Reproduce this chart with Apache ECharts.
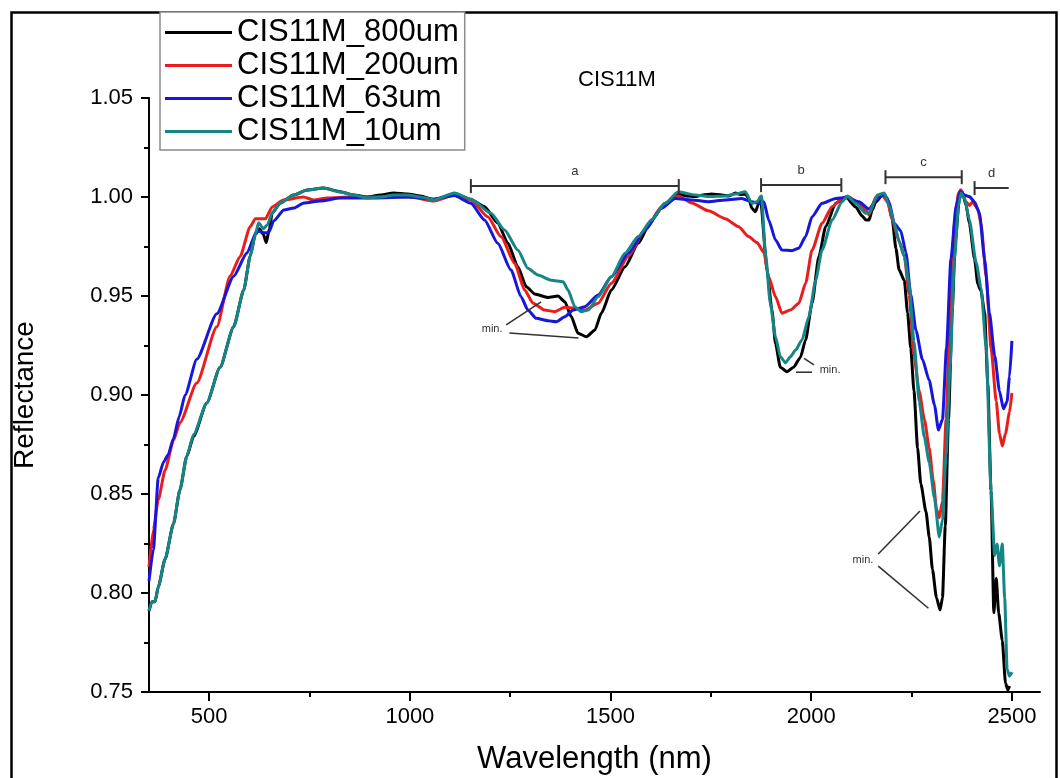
<!DOCTYPE html>
<html>
<head>
<meta charset="utf-8">
<script src="https://cdn.jsdelivr.net/npm/echarts@6/dist/echarts.min.js"></script>
<style>
  html, body { margin: 0; padding: 0; background: #fff; }
  #chart { width: 1060px; height: 778px; }
</style>
</head>
<body>
<div id="chart"></div>
<script>
// Reflectance spectra of sample CIS11M at four grain sizes (wavelength in nm)
const wl800 = [350,357,365,373,390,411,427,444,461,494,527,561,586,602,615,625,635,642,650,657,677,710,744,785,827,860,894,927,960,994,1027,1060,1110,1152,1186,1219,1244,1269,1290,1311,1344,1369,1386,1402,1419,1440,1461,1477,1502,1536,1569,1602,1636,1669,1690,1711,1730,1752,1777,1795,1811,1825,1836,1845,1852,1861,1868,1873,1890,1902,1911,1923,1940,1956,1973,1986,2002,2019,2036,2061,2086,2111,2127,2136,2144,2152,2161,2177,2190,2202,2211,2219,2232,2240,2248,2256,2265,2273,2286,2294,2302,2312,2321,2327,2334,2342,2351,2359,2369,2376,2386,2394,2407,2415,2423,2432,2440,2448,2455,2461,2467,2476,2484,2490,2494];
const r800  = [0.791,0.7956,0.7956,0.803,0.817,0.835,0.852,0.869,0.879,0.896,0.914,0.9345,0.953,0.970,0.981,0.984,0.981,0.977,0.984,0.992,0.997,1.001,1.0035,1.0045,1.0027,1.001,1.000,1.001,1.002,1.0015,1.0005,0.9985,1.0015,0.9988,0.9951,0.9869,0.9768,0.9648,0.9547,0.951,0.9493,0.950,0.9471,0.9396,0.9312,0.9294,0.9328,0.9413,0.953,0.9648,0.9766,0.9884,0.9968,1.0015,1.0005,1.0002,1.001,1.0015,1.001,1.0005,1.002,1.0012,1.0015,0.999,0.9943,0.9926,0.996,1.000,0.963,0.943,0.926,0.914,0.9118,0.914,0.919,0.9278,0.9463,0.9699,0.985,0.9968,1.000,0.995,0.9904,0.9884,0.9884,0.9934,0.9975,1.001,0.9992,0.9884,0.974,0.9632,0.9578,0.9416,0.9236,0.902,0.8732,0.8552,0.841,0.8283,0.812,0.7976,0.7914,0.7976,0.8338,0.8876,0.9416,0.9776,0.9992,1.0028,0.9957,0.9866,0.9687,0.956,0.9525,0.9416,0.9055,0.8517,0.790,0.8075,0.790,0.776,0.7545,0.751,0.753];

const wl200 = [350,361,373,390,411,427,469,519,552,577,602,615,640,657,685,735,760,794,850,950,1000,1060,1111,1152,1194,1227,1261,1286,1307,1336,1361,1386,1411,1436,1469,1502,1544,1586,1627,1669,1702,1744,1786,1819,1844,1865,1882,1894,1911,1927,1948,1969,1986,2002,2027,2052,2077,2094,2119,2136,2144,2161,2177,2190,2202,2219,2232,2244,2256,2269,2282,2294,2304,2312,2319,2327,2336,2346,2357,2367,2373,2386,2394,2402,2415,2423,2436,2448,2461,2469,2476,2484,2494,2500];
const r200  = [0.813,0.832,0.847,0.862,0.877,0.886,0.906,0.9345,0.960,0.970,0.985,0.989,0.989,0.995,0.9985,1.000,0.9985,0.9995,1.000,1.000,1.000,0.998,1.001,0.9985,0.990,0.980,0.9665,0.953,0.9463,0.9429,0.9421,0.9443,0.9438,0.9429,0.9463,0.9564,0.9699,0.9833,0.9951,1.0005,0.997,0.993,0.989,0.985,0.980,0.977,0.972,0.9597,0.9496,0.9413,0.9429,0.9463,0.9564,0.9732,0.9867,0.9951,0.9993,1.000,0.9968,0.9934,0.991,1.000,1.001,0.9975,0.9884,0.9776,0.970,0.9507,0.920,0.902,0.8876,0.8732,0.857,0.8426,0.838,0.8463,0.8876,0.9416,0.9866,1.002,1.0037,0.9975,0.9957,0.9975,0.994,0.9866,0.9596,0.9237,0.8967,0.8805,0.8742,0.8805,0.8913,0.901];

const wl63 = [350,361,373,386,398,411,425,440,469,519,561,594,619,636,648,661,686,711,736,777,827,910,994,1060,1111,1152,1186,1219,1252,1277,1294,1315,1344,1365,1386,1407,1436,1469,1502,1544,1586,1627,1661,1702,1744,1786,1827,1852,1869,1882,1894,1911,1927,1952,1969,1986,2002,2027,2061,2086,2119,2144,2165,2182,2194,2207,2223,2236,2248,2261,2277,2294,2307,2317,2327,2337,2348,2361,2371,2382,2394,2407,2419,2432,2444,2457,2469,2479,2488,2494,2500];
const r63  = [0.806,0.822,0.858,0.866,0.870,0.878,0.889,0.900,0.918,0.941,0.960,0.9717,0.983,0.982,0.982,0.988,0.9934,0.9944,0.997,0.998,0.9995,0.9995,1.000,0.999,1.0007,0.9968,0.9884,0.9766,0.9631,0.9496,0.9429,0.9387,0.9375,0.937,0.9395,0.9429,0.9446,0.9505,0.9597,0.9716,0.9833,0.9943,0.9993,0.9985,0.9976,0.9985,0.9993,0.9976,0.9968,0.9976,0.9884,0.9783,0.9732,0.9729,0.9741,0.980,0.990,0.9968,0.9993,0.9998,0.9976,0.994,0.999,1.0015,0.9975,0.9866,0.983,0.972,0.9507,0.9326,0.918,0.9074,0.895,0.8823,0.8876,0.9237,0.9687,0.9957,1.0028,1.001,1.0002,0.9975,0.992,0.9687,0.9416,0.920,0.902,0.893,0.8967,0.9092,0.9273];

const wl10 = [350,357,365,373,390,411,427,444,461,494,527,561,586,602,615,623,635,645,657,677,710,744,785,827,860,894,927,960,994,1027,1060,1111,1152,1202,1236,1269,1294,1319,1352,1382,1394,1411,1427,1444,1469,1502,1536,1569,1602,1636,1669,1711,1744,1786,1811,1836,1852,1865,1876,1886,1898,1911,1923,1936,1948,1961,1977,1994,2011,2027,2052,2077,2090,2111,2136,2144,2165,2182,2194,2207,2219,2232,2244,2256,2269,2282,2294,2307,2319,2327,2336,2346,2357,2367,2373,2382,2394,2411,2423,2436,2448,2457,2463,2469,2476,2482,2488,2494,2500];
const r10  = [0.791,0.7956,0.7956,0.803,0.817,0.835,0.852,0.869,0.880,0.896,0.914,0.9345,0.953,0.970,0.981,0.987,0.984,0.986,0.992,0.997,1.001,1.0035,1.0045,1.0025,1.001,0.9995,1.000,1.001,1.001,1.000,0.9985,1.002,0.999,0.9918,0.9833,0.9732,0.964,0.9606,0.958,0.9572,0.953,0.9446,0.9421,0.9429,0.9496,0.9597,0.9716,0.980,0.9884,0.9968,1.0027,1.001,1.0002,1.0005,1.0015,1.0027,0.9968,0.9976,1.0005,0.9716,0.9463,0.9294,0.9193,0.9163,0.9193,0.9227,0.9278,0.9395,0.958,0.9732,0.9884,0.9976,1.0005,0.9968,0.9918,0.992,1.001,1.002,0.9957,0.9866,0.9776,0.970,0.956,0.927,0.8967,0.8786,0.866,0.848,0.8283,0.837,0.8697,0.9146,0.9687,0.9957,1.002,0.9992,0.9884,0.9668,0.9542,0.9237,0.8517,0.819,0.8247,0.8138,0.8247,0.7976,0.7616,0.758,0.760];

const seriesNames = ['CIS11M_800um', 'CIS11M_200um', 'CIS11M_63um', 'CIS11M_10um'];
const seriesColors = ['#000000', '#ec1c1c', '#1616dc', '#158585'];

// Absorption band brackets: [start nm, end nm, reflectance level, right cap (1/0)]
const bandRanges = [[1152, 1670, 1.0055, 1], [1875, 2075, 1.006, 1], [2185, 2375, 1.0100, 1], [2407, 2492, 1.0045, 0]];
const bandLabels = ['a', 'b', 'c', 'd'];

// "min." callouts: label point, then two leader lines (each from -> to), all in nm / reflectance
const minNotes = [
  [1205, 0.9333, 1240, 0.9354, 1327, 0.9470, 1248, 0.9313, 1420, 0.9288],
  [2047, 0.9126, 1982, 0.9185, 2007, 0.9152, 1962, 0.9115, 2002, 0.9115],
  [2129, 0.8167, 2167, 0.8197, 2271, 0.8414, 2167, 0.8136, 2292, 0.7923]
];

const xMajorTicks = [500, 1000, 1500, 2000, 2500];
const xMinorTicks = [750, 1250, 1750, 2250];

function zip(xs, ys) { return xs.map((x, i) => [x, ys[i]]); }
const spectra = [zip(wl800, r800), zip(wl200, r200), zip(wl63, r63), zip(wl10, r10)];

const chart = echarts.init(document.getElementById('chart'), null, { renderer: 'canvas' });
const FONT = 'Liberation Sans, Arial, sans-serif';
const INK = '#333333';

const lineSeries = spectra.map((d, i) => ({
  name: seriesNames[i],
  type: 'line',
  data: d,
  showSymbol: false,
  symbol: 'none',
  smooth: 0.2,
  smoothMonotone: 'x',
  lineStyle: { color: seriesColors[i], width: 3 },
  itemStyle: { color: seriesColors[i] },
  clip: true,
  z: 3
}));

const bracketSeries = {
  type: 'custom',
  silent: true,
  z: 4,
  data: bandRanges,
  renderItem: function (params, api) {
    const a = api.coord([api.value(0), api.value(2)]);
    const b = api.coord([api.value(1), api.value(2)]);
    const cap = 7;
    const style = { stroke: INK, lineWidth: 2 };
    const children = [
      { type: 'line', shape: { x1: a[0], y1: a[1], x2: b[0], y2: b[1] }, style: style },
      { type: 'line', shape: { x1: a[0], y1: a[1] - cap, x2: a[0], y2: a[1] + cap }, style: style }
    ];
    if (api.value(3)) {
      children.push({ type: 'line', shape: { x1: b[0], y1: b[1] - cap, x2: b[0], y2: b[1] + cap }, style: style });
    }
    children.push({
      type: 'text',
      x: (a[0] + b[0]) / 2, y: a[1] - 8,
      style: { text: bandLabels[params.dataIndex], fill: INK, font: '13px ' + FONT, align: 'center', verticalAlign: 'bottom' }
    });
    return { type: 'group', children: children };
  }
};

const minSeries = {
  type: 'custom',
  silent: true,
  z: 4,
  data: minNotes,
  renderItem: function (params, api) {
    const p = api.coord([api.value(0), api.value(1)]);
    const style = { stroke: INK, lineWidth: 1.6 };
    const children = [{
      type: 'text', x: p[0], y: p[1],
      style: { text: 'min.', fill: INK, font: '11px ' + FONT, align: 'center', verticalAlign: 'middle' }
    }];
    for (let k = 0; k < 2; k++) {
      const s = api.coord([api.value(2 + 4 * k), api.value(3 + 4 * k)]);
      const e = api.coord([api.value(4 + 4 * k), api.value(5 + 4 * k)]);
      children.push({ type: 'line', shape: { x1: s[0], y1: s[1], x2: e[0], y2: e[1] }, style: style });
    }
    return { type: 'group', children: children };
  }
};

const option = {
  animation: false,
  backgroundColor: '#ffffff',
  textStyle: { fontFamily: FONT },
  graphic: [
    { type: 'rect', left: 9, top: 10, shape: { width: 1045, height: 800 }, style: { fill: null, stroke: '#000', lineWidth: 2.5 }, silent: true },
    { type: 'text', x: 617, y: 80, style: { text: 'CIS11M', font: '22px ' + FONT, fill: '#000', align: 'center', verticalAlign: 'middle' }, silent: true }
  ],
  legend: {
    data: seriesNames,
    orient: 'vertical',
    left: 160,
    top: 12,
    icon: 'rect',
    itemWidth: 67,
    itemHeight: 3,
    itemGap: 2,
    padding: [5, 6, 3, 5],
    borderColor: '#8a8a8a',
    borderWidth: 1.5,
    backgroundColor: '#fff',
    selectedMode: false,
    textStyle: { fontSize: 31, lineHeight: 31, color: '#000', fontFamily: FONT }
  },
  grid: { left: 149, top: 98, right: 20, bottom: 86, outerBoundsMode: 'none' },
  xAxis: [{
    type: 'value',
    min: 350,
    max: 2570,
    name: 'Wavelength (nm)',
    nameLocation: 'middle',
    nameGap: 52,
    nameTextStyle: { fontSize: 31, color: '#000', fontFamily: FONT },
    axisLine: { lineStyle: { color: '#000', width: 2 } },
    axisTick: { inside: false, length: 9, customValues: xMajorTicks, lineStyle: { color: '#000', width: 2 } },
    axisLabel: { customValues: xMajorTicks, fontSize: 22, color: '#000', margin: 14, formatter: v => String(v) },
    splitLine: { show: false }
  }, {
    type: 'value',
    min: 350,
    max: 2570,
    position: 'bottom',
    axisLine: { show: false },
    axisTick: { inside: false, length: 5, customValues: xMinorTicks, lineStyle: { color: '#000', width: 2 } },
    axisLabel: { show: false },
    splitLine: { show: false }
  }],
  yAxis: {
    type: 'value',
    min: 0.75,
    max: 1.05,
    interval: 0.05,
    name: 'Reflectance',
    nameLocation: 'middle',
    nameGap: 110,
    nameTextStyle: { fontSize: 28, color: '#000', fontFamily: FONT },
    axisLine: { show: true, lineStyle: { color: '#000', width: 2 } },
    axisTick: { show: true, inside: false, length: 8, lineStyle: { color: '#000', width: 2 } },
    minorTick: { show: true, splitNumber: 2, length: 5, lineStyle: { color: '#000', width: 2 } },
    axisLabel: { fontSize: 22, color: '#000', margin: 16, formatter: v => v.toFixed(2) },
    splitLine: { show: false }
  },
  series: lineSeries.concat([bracketSeries, minSeries])
};

chart.setOption(option);
</script>
</body>
</html>
